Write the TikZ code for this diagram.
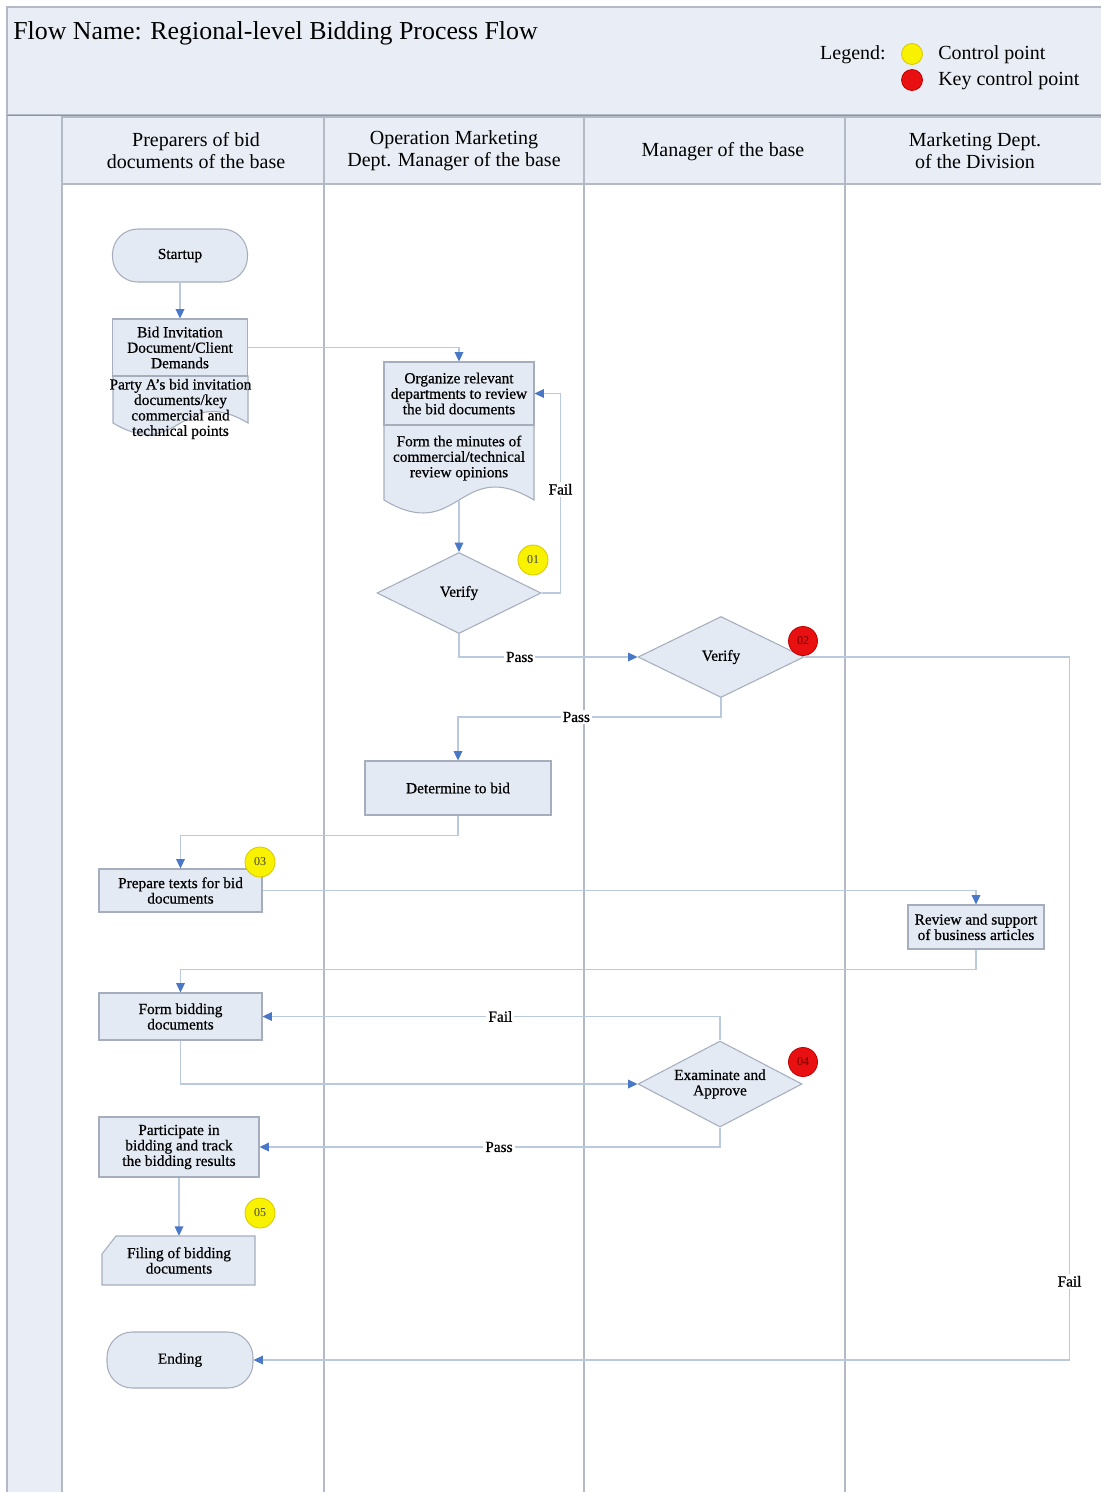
\documentclass[tikz,border=0pt]{standalone}
\usepackage{fontspec}
\setmainfont{Liberation Serif}
\newfontfamily\heavyfam[FakeBold=0.6]{Liberation Serif}
\usetikzlibrary{shapes.geometric,arrows.meta,calc}
\definecolor{bandfill}{HTML}{E9EEF6}
\definecolor{boxfill}{HTML}{E4EAF4}
\definecolor{boxline}{HTML}{A6AEBE}
\definecolor{laneline}{HTML}{B4B9C6}
\definecolor{connline}{HTML}{B9CADF}
\definecolor{tipblue}{HTML}{4A78C8}
\definecolor{cpyellow}{HTML}{F8F200}
\definecolor{cpyellowdk}{HTML}{D8C800}
\definecolor{cpred}{HTML}{E81010}
\definecolor{cpreddk}{HTML}{C00000}
\def\PX{0.75pt}
\newcommand\boxfont{\heavyfam\fontsize{11.5}{11.6}\selectfont}
\newcommand\lanefont{\fontsize{15}{16.5}\selectfont}
\begin{document}
\begin{tikzpicture}[x=0.75pt,y=-0.75pt,
  box/.style={draw=boxline, fill=boxfill, line width=0.8pt, align=center, font=\boxfont, inner sep=1pt},
  term/.style={box, rounded corners=19pt},
  dia/.style={box, diamond, aspect=2, inner sep=0pt},
  txt/.style={align=center, font=\boxfont, inner sep=0pt},
  conn/.style={draw=connline, line width=0.9pt, -{Triangle[length=7pt,width=6.5pt,color=tipblue]}},
  lab/.style={fill=white, font=\boxfont, inner sep=1.5pt},
  lanehead/.style={align=center, font=\lanefont, inner sep=0pt},
  ycp/.style={circle, fill=cpyellow, draw=cpyellowdk, line width=0.6pt, minimum size=30*\PX, inner sep=0pt, font=\fontsize{9}{9}\selectfont, text=black!75},
  rcp/.style={circle, fill=cpred, draw=cpreddk, line width=0.6pt, minimum size=29*\PX, inner sep=0pt, font=\fontsize{9}{9}\selectfont, text=red!45!black},
  legdot/.style={circle, minimum size=21*\PX, inner sep=0pt, line width=0.6pt}
]
\useasboundingbox (0,0) rectangle (1100,1492);
% ---------- background frame ----------
\draw[draw=laneline, fill=bandfill, line width=1pt] (7,7) rectangle (1110,115);
\draw[draw=laneline, fill=bandfill, line width=1pt] (7,115) rectangle (62,1500);
\draw[draw=laneline, fill=bandfill, line width=1pt] (62,117) rectangle (1110,184);
\fill[white] (63,185) rectangle (1110,1500);
\foreach \lx in {62,324,584,845} \draw[laneline, line width=0.9pt] (\lx,117) -- (\lx,1500);
\draw[laneline!80!black, line width=1.2pt] (7,115.5) -- (1110,115.5);

% ---------- title and legend ----------
\node[anchor=west, font=\fontsize{19.4}{21}\selectfont, inner sep=0pt] (title) at (13,33) {Flow Name: Regional-level Bidding Process Flow};
\node[anchor=east, font=\lanefont, inner sep=0pt] (legend) at (886,55) {Legend:};
\node[legdot, fill=cpyellow, draw=cpyellowdk] (legy) at (912,54) {};
\node[legdot, fill=cpred, draw=cpreddk] (legr) at (912,80) {};
\node[anchor=west, font=\lanefont, inner sep=0pt] (legyt) at (938,55) {Control point};
\node[anchor=west, font=\lanefont, inner sep=0pt] (legrt) at (938,81) {Key control point};

% ---------- lane headers ----------
\node[lanehead] (lane1) at (196,151) {Preparers of bid\\documents of the base};
\node[lanehead] (lane2) at (454,151) {Operation Marketing\\Dept. Manager of the base};
\node[lanehead] (lane3) at (723,152) {Manager of the base};
\node[lanehead] (lane4) at (975,151) {Marketing Dept.\\of the Division};

% ---------- nodes ----------
\node[term, minimum width=135*\PX, minimum height=53*\PX] (startup) at (180,255.5) {Startup};

% bid invitation document
\draw[draw=boxline, fill=boxfill, line width=0.8pt] (113,376) -- (113,423) .. controls (180.5,463) and (180.5,383) .. (248,423) -- (248,376) -- cycle;
\node[box, minimum width=135*\PX, minimum height=57*\PX] (bidinv) at (180,347.5) {Bid Invitation\\Document/Client\\Demands};
\node[txt] (bidinvtxt) at (180.5,409) {Party A’s bid invitation\\documents/key\\commercial and\\technical points};

% organize document
\draw[draw=boxline, fill=boxfill, line width=0.8pt] (384,425) -- (384,500) .. controls (459,545) and (459,455) .. (534,500) -- (534,425) -- cycle;
\node[box, minimum width=150*\PX, minimum height=63*\PX] (organize) at (459,393.5) {Organize relevant\\departments to review\\the bid documents};
\node[txt] (minutes) at (459,458) {Form the minutes of\\commercial/technical\\review opinions};
\coordinate (minbot) at (459,500);

\node[dia, minimum width=164*\PX, minimum height=81*\PX] (verify1) at (459,593) {Verify};
\node[dia, minimum width=166*\PX, minimum height=81*\PX] (verify2) at (721,657) {Verify};
\node[box, minimum width=186*\PX, minimum height=54*\PX] (determine) at (458,788) {Determine to bid};
\node[box, minimum width=163*\PX, minimum height=43*\PX] (prepare) at (180.5,890.5) {Prepare texts for bid\\documents};
\node[box, minimum width=136*\PX, minimum height=44*\PX] (review) at (976,927) {Review and support\\of business articles};
\node[box, minimum width=163*\PX, minimum height=47*\PX] (form) at (180.5,1016.5) {Form bidding\\documents};
\node[dia, minimum width=164*\PX, minimum height=86*\PX] (examine) at (720,1084) {Examinate and\\Approve};
\node[box, minimum width=160*\PX, minimum height=60*\PX] (participate) at (179,1147) {Participate in\\bidding and track\\the bidding results};

% filing card shape
\draw[draw=boxline, fill=boxfill, line width=0.8pt] (116,1236) -- (255,1236) -- (255,1285) -- (102,1285) -- (102,1254) -- cycle;
\node[txt, minimum width=153*\PX, minimum height=49*\PX] (filing) at (179,1260.5) {Filing of bidding\\documents};

\node[term, minimum width=146*\PX, minimum height=56*\PX] (ending) at (180,1360) {Ending};

% ---------- control points ----------
\node[ycp] (cp1) at (533,560) {01};
\node[rcp] (cp2) at (803,641) {02};
\node[ycp] (cp3) at (260,862) {03};
\node[rcp] (cp4) at (803,1062) {04};
\node[ycp] (cp5) at (260,1213) {05};

% ---------- connectors ----------
\draw[conn] (startup.south) -- (bidinv.north);
\draw[conn] (bidinv.east) -| (organize.north);
\draw[conn] (minbot) -- (verify1.north);
\draw[conn] (verify1.east) -- ++(19,0) |- node[lab, pos=0.26] {Fail} (organize.east);
\draw[conn] (verify1.south) |- node[lab, pos=0.67] {Pass} (verify2.west);
\draw[conn] (verify2.south) -- ++(0,19) -| node[lab, pos=0.275] {Pass} (determine.north);
\draw[conn] (verify2.east) -- ++(265,0) |- node[lab, pos=0.444] {Fail} (ending.east);
\draw[conn] (determine.south) -- ++(0,20) -| (prepare.north);
\draw[conn] (prepare.east) -| (review.north);
\draw[conn] (review.south) -- ++(0,20) -| (form.north);
\draw[conn] (form.south) |- (examine.west);
\draw[conn] (examine.north) |- node[lab, pos=0.74] {Fail} (form.east);
\draw[conn] (examine.south) |- node[lab, pos=0.74] {Pass} (participate.east);
\draw[conn] (participate.south) -- (filing.north);
\end{tikzpicture}
\end{document}
